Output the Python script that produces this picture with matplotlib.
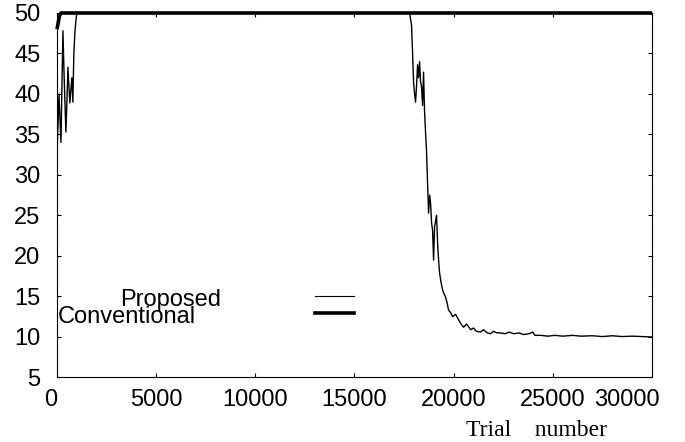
import numpy as np
import matplotlib
matplotlib.use("Agg")
import matplotlib.pyplot as plt
import matplotlib.transforms as mtransforms

# proposed method: values
prop_x = [0, 50, 100, 150, 200, 250, 300, 350, 400, 450, 500, 550, 600, 650,
          700, 750, 800, 850, 900, 950, 1000, 17776, 17877, 17927, 17978,
          18030, 18079, 18130, 18180, 18230, 18281, 18330, 18380, 18432,
          18483, 18530, 18584, 18630, 18685, 18735, 18790, 18836, 18890,
          18937, 18988, 19038, 19100, 19139, 19190, 19240, 19291, 19360,
          19442, 19520, 19594, 19670, 19745, 19850, 19947, 20100, 20250,
          20400, 20503, 20650, 20856, 21000, 21150, 21361, 21500, 21700,
          21866, 22000, 22200, 22371, 22600, 22800, 23028, 23300, 23500,
          23800, 23987, 24100, 24400, 24745, 25100, 25500, 26000, 26411,
          27000, 27500, 28000, 28500, 29000, 29500, 30000]
prop_y = [32.5, 36, 40, 37, 34, 41, 47.8, 43, 39, 35.3, 39, 43.3, 41, 38.9,
          40.5, 42, 39, 45, 47.5, 49, 50, 50, 48.5, 45.2, 41.5,
          40, 39, 41, 43.6, 42, 44, 41.5, 40.9, 38.6,
          42.7, 38, 35.2, 33.1, 29, 25.3, 27.5, 26.5, 24,
          23.2, 19.5, 23.6, 24.5, 25, 21.6, 19.5, 17.9, 16.8,
          15.8, 15.3, 14.9, 14.2, 13.3, 13.0, 12.5, 12.8, 12.1,
          11.5, 11.2, 11.6, 10.9, 11.1, 10.7, 10.6, 10.9, 10.5,
          10.4, 10.7, 10.5, 10.5, 10.4, 10.6, 10.4, 10.5, 10.3,
          10.4, 10.6, 10.2, 10.2, 10.1, 10.2, 10.1, 10.2, 10.1,
          10.15, 10.05, 10.15, 10.05, 10.1, 10.05, 10.0]

# conventional method stays at the cap
conv_x = [0, 60, 120, 200, 30000]
conv_y = [48.0, 48.8, 49.6, 50, 50]

xticks = [0, 5000, 10000, 15000, 20000, 25000, 30000]
yticks = [5, 10, 15, 20, 25, 30, 35, 40, 45, 50]

fig = plt.figure(figsize=(6.85, 4.42), dpi=100)
ax = fig.add_axes([0.0832, 0.146, 0.8686, 0.8246])

ax.plot(prop_x, prop_y, color="black", lw=1.0)
ax.plot(conv_x, conv_y, color="black", lw=2.6, solid_capstyle="butt", clip_on=False)

ax.set_xlim(0, 30000)
ax.set_ylim(5, 50)
ax.set_xticks(xticks)
ax.set_xticklabels([str(t) for t in xticks])
ax.set_yticks(yticks)
ax.set_yticklabels([str(t) for t in yticks])
ax.tick_params(direction="in", length=3, width=0.8, top=True, right=True,
               labelsize=17)
ax.tick_params(axis="x", pad=8)
ax.tick_params(axis="y", pad=12)
for lab in ax.get_xticklabels() + ax.get_yticklabels():
    lab.set_fontfamily("Liberation Sans")
for s in ax.spines.values():
    s.set_linewidth(0.8)

# nudge the end labels like the original
xl = ax.get_xticklabels()
xl[0].set_transform(xl[0].get_transform() + mtransforms.ScaledTranslation(-6/100, 0, fig.dpi_scale_trans))
xl[-1].set_transform(xl[-1].get_transform() + mtransforms.ScaledTranslation(-25/100, 0, fig.dpi_scale_trans))

fig.text(536/685, 1 - 431/442, "Trial    number", family="Liberation Serif",
         fontsize=17, ha="center", va="center")

# legend, drawn by hand
fig.text(221/685, 1 - 306/442, "Proposed", family="Liberation Sans",
         fontsize=17, ha="right", va="baseline")
fig.text(58/685, 1 - 323/442, "Conventional", family="Liberation Sans",
         fontsize=17, ha="left", va="baseline")
fig.add_artist(plt.Line2D([315/685, 354/685], [1 - 296/442, 1 - 296/442],
                          color="black", lw=0.8))
fig.add_artist(plt.Line2D([315/685, 354/685], [1 - 313/442, 1 - 313/442],
                          color="black", lw=2.6))

fig.savefig("out.png", dpi=100)
